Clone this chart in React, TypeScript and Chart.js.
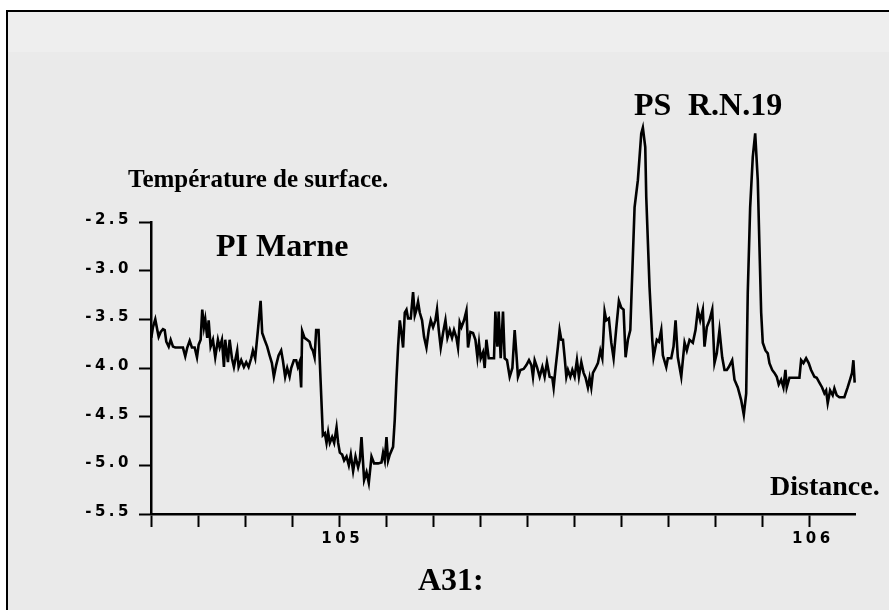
import React, { useEffect, useRef } from 'react';
import { Chart, registerables } from 'chart.js';

Chart.register(...registerables);

// Distance (km) along the profile
const DIST = [
  104.6006, 104.6042, 104.6091, 104.6134, 104.6163, 104.6206, 104.6255, 104.6291, 104.6325, 104.6376,
  104.6418, 104.6467, 104.6516, 104.6609, 104.6679, 104.6728, 104.6771, 104.6822, 104.6870, 104.6928,
  104.6977, 104.7013, 104.7055, 104.7089, 104.7125, 104.7153, 104.7195, 104.7225, 104.7267, 104.7316,
  104.7365, 104.7422, 104.7459, 104.7507, 104.7550, 104.7577, 104.7635, 104.7671, 104.7720, 104.7762,
  104.7790, 104.7832, 104.7862, 104.7917, 104.7974, 104.8023, 104.8074, 104.8129, 104.8166, 104.8214,
  104.8272, 104.8329, 104.8363, 104.8414, 104.8469, 104.8520, 104.8569, 104.8611, 104.8660, 104.8711,
  104.8766, 104.8802, 104.8851, 104.8894, 104.8945, 104.8979, 104.9036, 104.9085, 104.9121, 104.9157,
  104.9191, 104.9212, 104.9263, 104.9318, 104.9369, 104.9403, 104.9439, 104.9476, 104.9510, 104.9560,
  104.9603, 104.9652, 104.9694, 104.9730, 104.9764, 104.9800, 104.9849, 104.9892, 104.9943, 104.9977,
  105.0013, 105.0062, 105.0104, 105.0155, 105.0204, 105.0246, 105.0295, 105.0346, 105.0401, 105.0437,
  105.0473, 105.0529, 105.0580, 105.0628, 105.0686, 105.0741, 105.0826, 105.0898, 105.0932, 105.0968,
  105.1004, 105.1038, 105.1074, 105.1144, 105.1180, 105.1216, 105.1251, 105.1287, 105.1323, 105.1357,
  105.1393, 105.1429, 105.1463, 105.1520, 105.1569, 105.1605, 105.1641, 105.1675, 105.1711, 105.1760,
  105.1802, 105.1853, 105.1902, 105.1945, 105.1994, 105.2044, 105.2078, 105.2115, 105.2157, 105.2206,
  105.2257, 105.2299, 105.2348, 105.2397, 105.2439, 105.2490, 105.2524, 105.2560, 105.2597, 105.2652,
  105.2703, 105.2737, 105.2788, 105.2843, 105.2894, 105.2936, 105.2970, 105.3006, 105.3055, 105.3091,
  105.3127, 105.3176, 105.3233, 105.3289, 105.3318, 105.3361, 105.3388, 105.3431, 105.3480, 105.3516,
  105.3565, 105.3622, 105.3679, 105.3728, 105.3764, 105.3798, 105.3849, 105.3919, 105.3977, 105.4032,
  105.4083, 105.4117, 105.4153, 105.4202, 105.4259, 105.4316, 105.4365, 105.4414, 105.4471, 105.4528,
  105.4556, 105.4599, 105.4647, 105.4683, 105.4719, 105.4754, 105.4790, 105.4826, 105.4860, 105.4911,
  105.4953, 105.5002, 105.5051, 105.5093, 105.5144, 105.5193, 105.5235, 105.5284, 105.5320, 105.5356,
  105.5391, 105.5448, 105.5497, 105.5548, 105.5590, 105.5639, 105.5675, 105.5730, 105.5781, 105.5830,
  105.5887, 105.5943, 105.5993, 105.6042, 105.6085, 105.6134, 105.6185, 105.6212, 105.6276, 105.6346,
  105.6418, 105.6452, 105.6503, 105.6524, 105.6594, 105.6652, 105.6679, 105.6749, 105.6792, 105.6843,
  105.6877, 105.6949, 105.6983, 105.7055, 105.7104, 105.7147, 105.7195, 105.7268, 105.7338, 105.7386,
  105.7444, 105.7514, 105.7571, 105.7620, 105.7671, 105.7726, 105.7762, 105.7811, 105.7868, 105.7926,
  105.7974, 105.8023, 105.8080, 105.8138, 105.8187, 105.8236, 105.8278, 105.8350, 105.8399, 105.8469,
  105.8541, 105.8597, 105.8648, 105.8681, 105.8732, 105.8788, 105.8839, 105.8894, 105.8930, 105.8966,
  105.9000, 105.9057, 105.9106, 105.9142, 105.9200, 105.9248, 105.9297, 105.9339, 105.9390, 105.9439,
  105.9482, 105.9509, 105.9567, 105.9673, 105.9779, 105.9815, 105.9864, 105.9921, 105.9976, 106.0027,
  106.0097, 106.0146, 106.0203, 106.0261, 106.0310, 106.0346, 106.0380, 106.0431, 106.0486, 106.0522,
  106.0571, 106.0628, 106.0734, 106.0804, 106.0855, 106.0897, 106.0926, 106.0953,
];

// Surface temperature
const TEMP = [
  -3.69, -3.58, -3.50, -3.61, -3.68, -3.63, -3.60, -3.61, -3.73, -3.78,
  -3.71, -3.78, -3.79, -3.79, -3.79, -3.88, -3.79, -3.72, -3.79, -3.79,
  -3.89, -3.76, -3.71, -3.40, -3.58, -3.50, -3.69, -3.51, -3.78, -3.71,
  -3.89, -3.71, -3.79, -3.71, -3.99, -3.71, -3.94, -3.71, -3.90, -3.99,
  -3.92, -3.82, -3.99, -3.92, -3.99, -3.94, -3.99, -3.90, -3.82, -3.90,
  -3.61, -3.31, -3.64, -3.71, -3.78, -3.87, -3.95, -4.09, -3.97, -3.87,
  -3.82, -3.92, -4.09, -4.00, -4.09, -4.00, -3.92, -3.92, -3.99, -3.94,
  -4.20, -3.62, -3.69, -3.71, -3.73, -3.79, -3.82, -3.89, -3.61, -3.61,
  -4.12, -4.69, -4.67, -4.77, -4.66, -4.77, -4.71, -4.77, -4.61, -4.77,
  -4.87, -4.89, -4.95, -4.91, -5.00, -4.89, -5.06, -4.91, -5.02, -4.95,
  -4.71, -5.15, -5.07, -5.18, -4.91, -4.98, -4.98, -4.97, -4.87, -4.95,
  -4.71, -4.95, -4.89, -4.81, -4.53, -4.12, -3.78, -3.51, -3.64, -3.79,
  -3.43, -3.40, -3.49, -3.49, -3.22, -3.46, -3.40, -3.32, -3.43, -3.51,
  -3.68, -3.79, -3.61, -3.51, -3.58, -3.51, -3.40, -3.61, -3.79, -3.64,
  -3.51, -3.69, -3.61, -3.69, -3.61, -3.69, -3.79, -3.53, -3.58, -3.51,
  -3.41, -3.79, -3.63, -3.64, -3.71, -3.89, -3.74, -3.90, -3.84, -4.00,
  -3.71, -3.90, -3.90, -3.90, -3.42, -3.78, -3.42, -3.90, -3.42, -3.90,
  -3.92, -4.09, -4.00, -3.61, -3.85, -4.09, -4.02, -4.01, -3.97, -3.92,
  -3.97, -4.09, -3.92, -3.99, -4.09, -3.99, -4.09, -3.94, -4.09, -4.10,
  -4.20, -3.99, -3.78, -3.61, -3.71, -3.71, -3.89, -4.09, -4.02, -4.09,
  -4.02, -4.09, -3.92, -4.09, -3.94, -4.05, -4.10, -4.20, -4.10, -4.20,
  -4.05, -4.00, -3.95, -3.82, -3.90, -3.42, -3.51, -3.49, -3.74, -3.90,
  -3.59, -3.31, -3.38, -3.40, -3.89, -3.71, -3.61, -3.23, -2.35, -2.07,
  -1.59, -1.53, -1.73, -2.24, -3.17, -3.71, -3.89, -3.71, -3.73, -3.61,
  -3.87, -3.99, -3.90, -3.90, -3.78, -3.51, -3.89, -4.09, -3.74, -3.82,
  -3.71, -3.74, -3.61, -3.40, -3.51, -3.40, -3.78, -3.58, -3.51, -3.40,
  -3.95, -3.85, -3.61, -3.89, -4.02, -4.02, -3.99, -3.92, -4.12, -4.20,
  -4.33, -4.48, -4.26, -3.23, -2.35, -1.83, -1.59, -2.07, -2.76, -3.43,
  -3.74, -3.82, -3.85, -3.95, -4.02, -4.05, -4.09, -4.17, -4.12, -4.20,
  -4.02, -4.20, -4.10, -4.10, -4.10, -3.92, -3.95, -3.90, -3.95, -4.02,
  -4.09, -4.10, -4.15, -4.20, -4.26, -4.23, -4.36, -4.23, -4.28, -4.21,
  -4.28, -4.30, -4.30, -4.20, -4.12, -4.05, -3.92, -4.15,
];

const X_TICKS = [104.6, 104.7, 104.8, 104.9, 105.0, 105.1, 105.2, 105.3, 105.4, 105.5, 105.6, 105.7, 105.8, 105.9, 106.0];
const X_TICK_LABELS = ['', '', '', '', '105', '', '', '', '', '', '', '', '', '', '106'];
const Y_TICKS = [-2.5, -3.0, -3.5, -4.0, -4.5, -5.0, -5.5];
const Y_TICK_LABELS = ['-2.5', '-3.0', '-3.5', '-4.0', '-4.5', '-5.0', '-5.5'];

const X_MIN = 104.6;
const X_MAX = 106.096;
const Y_MIN = -5.5;
const Y_MAX = -2.5;

const TICK_FONT = { family: '"DejaVu Sans", sans-serif', size: 15, weight: 'bold' as const };
const SERIF = '"Liberation Serif", "Times New Roman", serif';

const backgroundPlugin = {
  id: 'paper',
  beforeDraw(chart: any) {
    const ctx = chart.ctx as CanvasRenderingContext2D;
    const w = chart.width;
    const h = chart.height;
    ctx.save();
    ctx.fillStyle = '#ffffff';
    ctx.fillRect(0, 0, w, h);
    ctx.fillStyle = '#eaeaea';
    ctx.fillRect(8, 12, w - 8, h - 12);
    ctx.fillStyle = '#eeeeee';
    ctx.fillRect(8, 12, w - 8, 40);
    ctx.fillStyle = '#000000';
    ctx.fillRect(6, 10, w - 6, 2);
    ctx.fillRect(6, 10, 2, h - 10);
    ctx.restore();
    (ctx as any).letterSpacing = '3.5px';
  },
  beforeDatasetsDraw(chart: any) {
    (chart.ctx as any).letterSpacing = '0px';
  },
};

const textPlugin = {
  id: 'annotations',
  afterDraw(chart: any) {
    const ctx = chart.ctx as CanvasRenderingContext2D;
    ctx.save();
    (ctx as any).letterSpacing = '0px';
    ctx.fillStyle = '#000';
    ctx.textAlign = 'left';
    ctx.textBaseline = 'alphabetic';
    ctx.font = `bold 25px ${SERIF}`;
    ctx.fillText('Température de surface.', 128, 187);
    ctx.font = `bold 32px ${SERIF}`;
    ctx.fillText('PI Marne', 216, 256);
    ctx.fillText('PS', 634, 115);
    ctx.fillText('R.N.19', 688, 115);
    ctx.font = `bold 28px ${SERIF}`;
    ctx.fillText('Distance.', 770, 495);
    ctx.font = `bold 32px ${SERIF}`;
    ctx.fillText('A31:', 418, 590);
    ctx.restore();
  },
};

export default function App() {
  const ref = useRef<HTMLCanvasElement>(null);

  useEffect(() => {
    const canvas = ref.current;
    if (!canvas) return;
    const points = DIST.map((x, i) => ({ x, y: TEMP[i] }));
    const chart = new Chart(canvas, {
      type: 'line',
      data: {
        datasets: [
          {
            data: points,
            borderColor: '#000000',
            borderWidth: 2.6,
            pointRadius: 0,
            tension: 0,
            fill: false,
            clip: false as any,
          },
        ],
      },
      options: {
        animation: false,
        responsive: false,
        devicePixelRatio: 1,
        events: [],
        layout: { padding: { left: 0, top: 222, right: 34, bottom: 0 } },
        plugins: {
          legend: { display: false },
          tooltip: { enabled: false },
          title: { display: false },
        },
        scales: {
          x: {
            type: 'linear',
            position: 'bottom',
            min: X_MIN,
            max: X_MAX,
            afterBuildTicks: (scale: any) => {
              scale.ticks = X_TICKS.map((value) => ({ value }));
            },
            afterFit: (scale: any) => {
              scale.height = 96;
            },
            ticks: {
              autoSkip: false,
              maxRotation: 0,
              padding: 3,
              labelOffset: 3,
              color: '#000',
              font: TICK_FONT,
              callback: (_v: any, i: number) => X_TICK_LABELS[i],
            },
            grid: {
              display: true,
              drawOnChartArea: false,
              drawTicks: true,
              tickLength: 13,
              color: '#000',
              tickColor: '#000',
              tickWidth: 2,
            },
            border: { display: true, color: '#000', width: 2.5 },
          },
          y: {
            type: 'linear',
            min: Y_MIN,
            max: Y_MAX,
            afterBuildTicks: (scale: any) => {
              scale.ticks = Y_TICKS.map((value) => ({ value }));
            },
            afterFit: (scale: any) => {
              scale.width = 151;
            },
            ticks: {
              padding: 7,
              labelOffset: -2,
              color: '#000',
              font: TICK_FONT,
              callback: (_v: any, i: number) => Y_TICK_LABELS[i],
            },
            grid: {
              display: true,
              drawOnChartArea: false,
              drawTicks: true,
              tickLength: 12,
              color: '#000',
              tickColor: '#000',
              tickWidth: 2,
            },
            border: { display: true, color: '#000', width: 2.5 },
          },
        },
      },
      plugins: [backgroundPlugin, textPlugin],
    });
    return () => chart.destroy();
  }, []);

  return (
    <div style={{ position: 'fixed', left: 0, top: 0, width: 889, height: 610 }}>
      <canvas ref={ref} width={889} height={610} style={{ display: 'block', width: 889, height: 610 }} />
    </div>
  );
}
